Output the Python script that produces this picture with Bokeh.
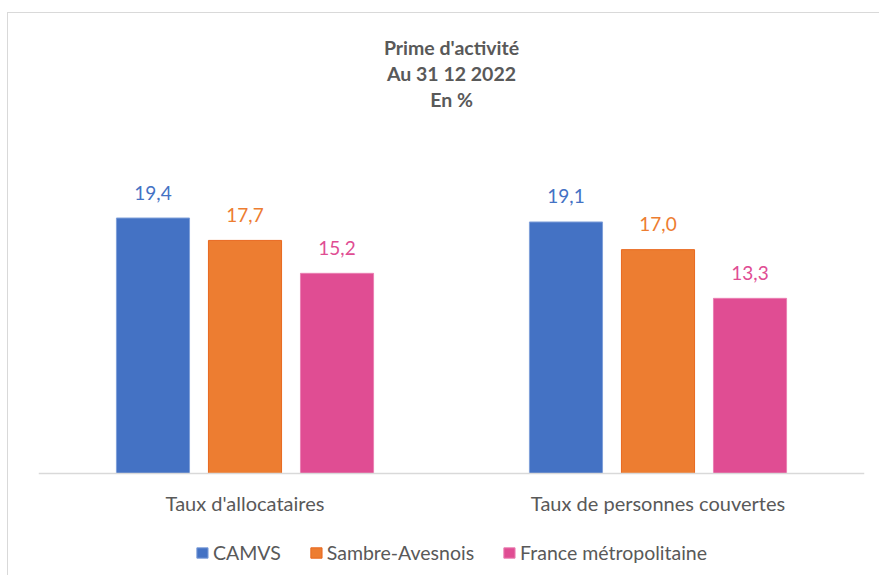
from bokeh.plotting import figure
from bokeh.models import ColumnDataSource, FactorRange, Range1d, Legend, LegendItem, Span
from bokeh.transform import dodge
from bokeh.core.properties import value
from bokeh.embed import file_html
from bokeh.resources import INLINE

categories = ["Taux d'allocataires", "Taux de personnes couvertes"]
series = ["CAMVS", "Sambre-Avesnois", "France métropolitaine"]
camvs = [19.4, 19.1]
sambre = [17.7, 17.0]
france = [15.2, 13.3]
title_lines = ["Prime d'activité", "Au 31 12 2022", "En %"]
colors = ["#4472C4", "#ED7D31", "#E04D93"]
edge_colors = ["#7F9FD9", "#E8681E", "#EA80B3"]
label_colors = ["#4472C4", "#ED7D31", "#E04D93"]

FONT = "Lato"
GREY = "#595959"
Y_MIN, Y_MAX = -7.82, 34.93

src = ColumnDataSource(dict(
    cat=categories,
    camvs=camvs, sambre=sambre, france=france,
    camvs_lbl=[f"{v:.1f}".replace(".", ",") for v in camvs],
    sambre_lbl=[f"{v:.1f}".replace(".", ",") for v in sambre],
    france_lbl=[f"{v:.1f}".replace(".", ",") for v in france],
))

p = figure(
    x_range=FactorRange(*categories),
    y_range=Range1d(Y_MIN, Y_MAX),
    width=872, height=563,
    output_backend="svg", toolbar_location=None,
    min_border_left=30, min_border_right=16, min_border_top=0, min_border_bottom=0,
    title=None,
)
p.margin = (12, 0, 0, 7)
p.styles = {"border-top": "1px solid #D9D9D9", "border-left": "1px solid #D9D9D9"}

# baseline (category axis line)
p.add_layout(Span(location=0, dimension="width", line_color="#D9D9D9", line_width=1.5))

offsets = [-0.2228, 0.0, 0.2228]
fields = ["camvs", "sambre", "france"]
items = []
for f, off, c, ec, lc, name in zip(fields, offsets, colors, edge_colors, label_colors, series):
    r = p.vbar(x=dodge("cat", off, range=p.x_range), top=f, width=0.177, source=src,
               fill_color=c, line_color=ec, line_width=1)
    p.text(x=dodge("cat", off, range=p.x_range), y=f, text=f + "_lbl", source=src,
           text_align="center", text_baseline="alphabetic", y_offset=-25.5,
           text_font=value(FONT), text_font_size="19px", text_color=lc)
    items.append(LegendItem(label=name, renderers=[r]))

# category labels under the baseline
cat_src = ColumnDataSource(dict(cat=categories, y=[0] * len(categories)))
p.text(x="cat", y="y", text="cat", source=cat_src, text_align="center",
       text_baseline="alphabetic", y_offset=29,
       text_font=value(FONT), text_font_size="20px", text_color=GREY)

# title, centred over the chart (between the two categories)
title_src = ColumnDataSource(dict(x=[categories[0]] * 3, y=[Y_MAX] * 3, text=title_lines,
                                  off=[34, 60, 86]))
p.text(x=dodge("x", 0.5, range=p.x_range), y="y", text="text", y_offset="off", source=title_src,
       text_align="center", text_baseline="alphabetic",
       text_font=value(FONT), text_font_size="19.5px", text_font_style="bold", text_color=GREY)

legend = Legend(items=items, orientation="horizontal", location="bottom_center",
                glyph_width=14, glyph_height=13, label_standoff=4, spacing=28,
                label_text_font=FONT, label_text_font_size="19.5px", label_text_color=GREY,
                border_line_color=None, background_fill_alpha=0, padding=0, margin=12)
p.add_layout(legend, "center")

p.xaxis.visible = False
p.yaxis.visible = False
p.xgrid.grid_line_color = None
p.ygrid.grid_line_color = None
p.outline_line_color = None

open("out.html", "w").write(file_html(p, INLINE))
